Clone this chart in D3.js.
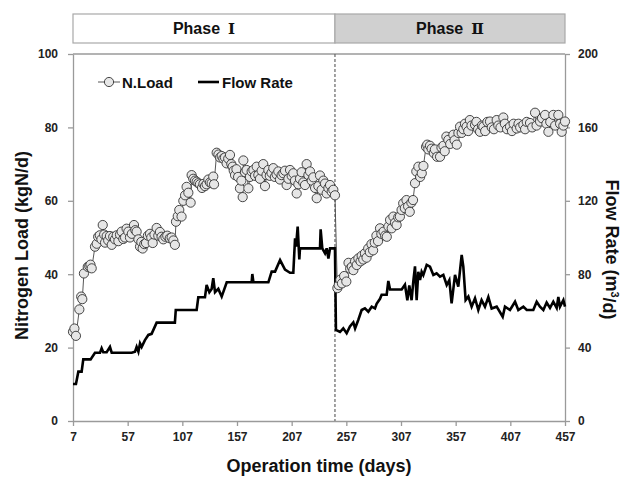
<!DOCTYPE html>
<html>
<head>
<meta charset="utf-8">
<script src="https://cdn.jsdelivr.net/npm/d3@7"></script>
<style>
  body { margin: 0; background: #fff; }
  svg { display: block; font-family: "Liberation Sans", Arial, sans-serif; font-weight: bold; }
  .axis path, .axis line { stroke: #9a9a9a; stroke-width: 1.3; }
  .axis text { font-size: 12px; font-weight: bold; fill: #222; font-family: "Liberation Sans", Arial, sans-serif; }
</style>
</head>
<body>
<svg id="chart" width="625" height="479"></svg>
<script>
'use strict';

// tick values
var xTicks = [7, 57, 107, 157, 207, 257, 307, 357, 407, 457];
var leftTicks = [0, 20, 40, 60, 80, 100];
var rightTicks = [0, 40, 80, 120, 160, 200];

// phase boundaries (days) and labels
var phaseBounds = [7, 246.6, 457];
var phaseNames = ['Phase', 'Phase'];
var phaseNumerals = ['\u2160', '\u2161'];

// N.Load (kgN/d), [day, value]
var nLoad = [
  [7, 24.3], [8.3, 25.2], [9.7, 23.2], [12.8, 30.4], [14.5, 33.9], [15.5, 33.2], [17, 40.2], [20.5, 42], [21.9, 42.2],
  [23, 42.6], [24.1, 41.6], [27.1, 47.5], [28.7, 48.3], [30, 50.2], [31.5, 50.6], [33, 49.5], [34.2, 53.4], [35.5, 50.8],
  [36.3, 48.6], [37.8, 50.4], [39.2, 49.2], [40.8, 50.4], [42.4, 48.0], [43.8, 50.2], [45.4, 49.5], [47, 50.6], [48.5, 49.0],
  [50, 50.8], [51.5, 51.6], [53, 49.6], [54.6, 50.0], [56, 52.4], [57.6, 51.6], [59.1, 50.0], [60.8, 51.0], [62.8, 53.4],
  [64, 52.0], [65.2, 51.6], [66.8, 49.5], [68.3, 47.5], [69.5, 48.8], [70.7, 47.0], [72.2, 48.2], [73.8, 48.5], [75.5, 50.5],
  [77.4, 51.0], [78.6, 50.0], [79.9, 48.5], [81.5, 50.8], [83.5, 52.6], [85, 50.5], [86.5, 51.5], [88, 50.2], [89.6, 49.5],
  [91.5, 50.2], [93.2, 50.5], [95.5, 49.8], [97.2, 50.0], [98.8, 49.2], [100.2, 48.0], [101.2, 54.3], [102.8, 55.8],
  [104.2, 57.5], [106.3, 55.7], [107.9, 60.0], [109.5, 61.5], [110.9, 63.8], [112.5, 62.2], [114.6, 59.5], [115.5, 67.0],
  [117, 66.0], [118.6, 65.5], [120.1, 65.2], [121.6, 64.8], [123.1, 64.5], [125, 63.5], [126.3, 64.6], [127.7, 64.0],
  [129.2, 64.5], [130.8, 65.8], [132.3, 65.0], [133.8, 64.8], [135.3, 66.6], [136, 64.5], [138.4, 73.1], [140, 72.6],
  [141.5, 71.8], [143, 72.2], [144.5, 71.5], [146, 71.8], [147.5, 70.2], [149, 71.5], [150.6, 72.5], [151.8, 70.0],
  [153, 69.3], [154, 68.2], [155.2, 67.0], [156.5, 68.6], [158, 66.5], [159.7, 63.4], [161, 65.5], [162.2, 61.0],
  [162.8, 71.0], [164.3, 67.8], [165.8, 68.4], [167.4, 63.4], [168.8, 66.5], [170.4, 68.0], [172, 68.4], [173.5, 66.8],
  [175, 69.3], [176.5, 67.0], [178, 66.0], [179.5, 68.2], [181, 70.0], [182.6, 64.0], [184, 67.0], [185.7, 68.4],
  [187, 66.8], [188.6, 67.6], [190.2, 68.9], [191.6, 66.5], [193.2, 67.2], [194.8, 68.0], [196.3, 65.8], [197.8, 67.0],
  [199.4, 67.5], [200.9, 68.2], [202.4, 64.3], [204, 66.0], [205.5, 68.4], [207, 66.8], [208.5, 67.5], [210, 65.5],
  [211.6, 62.0], [213.1, 64.5], [214.6, 66.0], [216.1, 67.8], [217.6, 65.0], [219.2, 64.3], [220.7, 70.0], [222.3, 67.0],
  [223.8, 68.0], [225.3, 65.5], [226.8, 66.4], [228.4, 63.5], [229.9, 60.7], [231.4, 64.0], [232.9, 66.9], [234.4, 63.0],
  [236, 65.5], [237.5, 64.7], [239, 62.0], [240.6, 63.5], [242.1, 64.3], [243.6, 62.5], [245.1, 63.0], [246.6, 61.5],
  [248.8, 36.2], [250, 37.0], [251.5, 38.5], [253, 37.5], [255, 39.5], [257, 38.0], [259, 43.1], [260.5, 41.5], [262, 42.0],
  [263.4, 41.1], [265, 43.5], [266.5, 42.5], [268, 44.3], [270, 43.5], [271, 45.0], [272.5, 44.0], [274, 45.7], [275.5, 44.5],
  [277, 47.0], [278.5, 46.0], [280, 48.2], [281.5, 46.5], [283, 48.6], [284.5, 50.5], [286, 49.0], [287.8, 52.5], [289, 51.0],
  [291, 51.6], [292.5, 50.5], [294, 50.2], [295.5, 53.0], [297, 54.8], [298.5, 52.5], [300, 55.7], [301.5, 54.0], [303, 53.4],
  [304.5, 55.5], [306, 55.7], [307.5, 57.5], [309, 59.3], [310.5, 58.0], [312, 60.2], [313.5, 58.5], [315, 57.0], [316.5, 59.5],
  [318, 60.2], [319.8, 64.8], [321, 68.0], [322.9, 69.3], [324.5, 66.5], [326, 67.5], [327.5, 69.5], [329.9, 74.7], [331, 75.3],
  [332, 74.0], [333.5, 75.0], [335, 74.2], [337, 73.0], [338, 74.0], [340, 72.0], [342.7, 72.0], [344, 74.5], [345.8, 75.0],
  [347, 73.5], [348.5, 77.5], [350.3, 76.6], [352, 75.5], [354.9, 78.0], [356, 76.5], [358, 75.3], [359.5, 78.5], [361, 80.2],
  [362.5, 78.5], [364, 79.5], [365.5, 81.0], [367, 80.2], [368.5, 79.0], [370, 82.0], [371.5, 80.5], [374.7, 80.7], [376, 81.5],
  [377.5, 79.5], [379.3, 78.8], [381, 80.5], [382.3, 80.2], [384, 79.0], [386, 81.5], [388.4, 81.6], [390, 80.0], [392, 79.5],
  [394.5, 82.0], [396, 80.5], [398, 80.0], [400.6, 82.7], [402, 81.0], [404, 79.5], [406.7, 80.2], [408.5, 79.0], [410, 81.0],
  [412.8, 79.7], [414.5, 81.0], [416, 80.0], [418.9, 80.7], [420.5, 79.5], [422, 81.5], [425, 81.2], [427, 80.0], [429.6, 84.0],
  [431, 80.5], [434.2, 81.6], [436, 82.5], [438.8, 83.4], [440, 81.0], [441.8, 78.8], [443.5, 81.5], [446.3, 83.4], [448, 80.5],
  [450.9, 83.4], [452.5, 81.0], [454, 78.8], [455.5, 80.5], [457, 81.6]
];

// Flow Rate (m3/d), [day, value]
var flowRate = [
  [7, 20.2], [9.7, 20.2], [11.9, 26.9], [14.9, 26.9], [16.4, 33.6], [23.1, 33.6], [27.1, 37.2], [31.7, 37.2], [33.2, 39.6],
  [34.7, 37.5], [37.8, 37.5], [40.8, 40.4], [42.4, 37.2], [60.7, 37.2], [63.7, 37.8], [65.2, 40.4], [66.8, 37.8], [68.3, 42.3],
  [69.8, 40.4], [72.8, 44.1], [75.9, 46.9], [78.9, 47.5], [83.5, 53.6], [100.2, 53.6], [101, 60.5], [120.1, 60.5], [121.6, 67.4],
  [127.7, 67.4], [129.2, 74.1], [131.7, 70.2], [133.8, 72.0], [135.3, 77.8], [136.9, 70.2], [139.9, 72.0], [143, 67.8],
  [147.6, 75.6], [170.4, 75.6], [171, 80.1], [172, 75.6], [185.7, 75.6], [188.7, 81.4], [191.8, 81.4], [196.4, 87.7],
  [200.9, 82.5], [205.5, 80.8], [208.5, 80.8], [210.1, 99.6], [211, 95], [212.5, 105.9], [214, 88], [214.6, 94.1],
  [232.9, 94.1], [233.5, 104.5], [235, 94.1], [237.5, 91.4], [239, 94.1], [240.6, 88.5], [242.1, 94.1], [246.6, 94.1],
  [247.5, 49.6], [251.2, 48.5], [254.2, 50.5], [257.3, 47.8], [260.3, 51.5], [263.4, 53.7], [265, 50.5], [268, 55.2],
  [271, 60.5], [274, 61.4], [277.1, 59.6], [280.2, 62.3], [283.2, 61.4], [284.7, 63.9], [287.8, 66.6], [289.3, 68.8],
  [293.9, 68.8], [295.4, 76.3], [297, 71.7], [307.6, 71.7], [310.6, 74.3], [312.8, 65.8], [314.6, 73.9], [316.7, 65.8],
  [318.3, 76.3], [319.8, 84.3], [321.3, 65.9], [322.8, 81.3], [324.4, 76.8], [325.9, 81.3], [327.4, 79.5], [330.5, 85.1],
  [333.5, 84.1], [336.6, 79.6], [339.6, 80.5], [342.7, 78.7], [345.7, 79.6], [348.8, 74.1], [351.2, 76.8], [353.3, 64.1],
  [356.4, 79.6], [359.4, 73.2], [362.5, 90.5], [364, 84.1], [366.1, 65.9], [368.6, 67.8], [371.6, 62.3], [374.7, 66.9],
  [377.7, 60.5], [380.7, 65.9], [383.8, 62.3], [386.9, 67.6], [389.9, 61.3], [394.5, 62.3], [400, 56.8], [402.1, 62.3],
  [406.7, 60.5], [411.3, 65.0], [414.3, 60.5], [418.9, 62.3], [422, 60.5], [428, 60.5], [431.1, 65.0], [434.1, 62.3],
  [437.2, 60.5], [440.2, 64.6], [443.3, 61.6], [446.3, 65.0], [449.4, 61.6], [450.9, 67.6], [452.4, 62.3], [455.5, 65.9],
  [457, 62.3]
];

var margin = { top: 54, right: 60, bottom: 58, left: 73 };
var svg = d3.select('#chart');
var width = +svg.attr('width') - margin.left - margin.right;
var height = +svg.attr('height') - margin.top - margin.bottom;

var x = d3.scaleLinear().domain([7, 457]).range([0, width]);
var yLeft = d3.scaleLinear().domain([0, 100]).range([height, 0]);
var yRight = d3.scaleLinear().domain([0, 200]).range([height, 0]);

var g = svg.append('g').attr('transform', 'translate(' + margin.left + ',' + margin.top + ')');

// phase header
var phaseGroup = svg.append('g').attr('transform', 'translate(' + margin.left + ',14)');
var phaseData = phaseNames.map(function (name, i) {
  return { name: name, numeral: phaseNumerals[i], start: phaseBounds[i], end: phaseBounds[i + 1] };
});
phaseGroup.selectAll('rect').data(phaseData).enter().append('rect')
  .attr('x', function (d) { return x(d.start); })
  .attr('width', function (d) { return x(d.end) - x(d.start); })
  .attr('y', 0)
  .attr('height', 29)
  .attr('fill', function (d, i) { return i === 0 ? '#ffffff' : '#d0d0d0'; })
  .attr('stroke', '#a8a8a8')
  .attr('stroke-width', 1.2);
var phaseText = phaseGroup.selectAll('text').data(phaseData).enter().append('text')
  .attr('x', function (d) { return (x(d.start) + x(d.end)) / 2; })
  .attr('y', 20)
  .attr('text-anchor', 'middle')
  .style('font-size', '16px')
  .style('fill', '#111');
phaseText.append('tspan').text(function (d) { return d.name; });
phaseText.append('tspan').attr('dx', 8)
  .style('font-family', '"DejaVu Serif", "Liberation Serif", serif')
  .style('font-size', '15px')
  .text(function (d) { return d.numeral; });

// frame top line
g.append('line')
  .attr('x1', 0).attr('x2', width).attr('y1', 0).attr('y2', 0)
  .attr('stroke', '#9a9a9a').attr('stroke-width', 1.3);

// axes
g.append('g').attr('class', 'axis')
  .attr('transform', 'translate(0,' + height + ')')
  .call(d3.axisBottom(x).tickValues(xTicks).tickSize(5).tickSizeOuter(0).tickPadding(6));
g.append('g').attr('class', 'axis')
  .call(d3.axisLeft(yLeft).tickValues(leftTicks).tickSize(5).tickSizeOuter(0).tickPadding(10));
g.append('g').attr('class', 'axis')
  .attr('transform', 'translate(' + width + ',0)')
  .call(d3.axisRight(yRight).tickValues(rightTicks).tickSize(5).tickSizeOuter(0).tickPadding(8));

// phase separator
g.append('line')
  .attr('x1', x(phaseBounds[1])).attr('x2', x(phaseBounds[1]))
  .attr('y1', 0).attr('y2', height)
  .attr('stroke', '#666').attr('stroke-width', 1.2).attr('stroke-dasharray', '3,2');

// flow rate line
var flowLine = d3.line()
  .x(function (d) { return x(d[0]); })
  .y(function (d) { return yRight(d[1]); });
g.append('path').datum(flowRate)
  .attr('d', flowLine)
  .attr('fill', 'none')
  .attr('stroke', '#000')
  .attr('stroke-width', 2.6)
  .attr('stroke-linejoin', 'miter');

// N.Load line + markers
var loadLine = d3.line()
  .x(function (d) { return x(d[0]); })
  .y(function (d) { return yLeft(d[1]); });
g.append('path').datum(nLoad)
  .attr('d', loadLine)
  .attr('fill', 'none')
  .attr('stroke', '#444')
  .attr('stroke-width', 0.9);
g.selectAll('.pt').data(nLoad).enter().append('circle')
  .attr('class', 'pt')
  .attr('cx', function (d) { return x(d[0]); })
  .attr('cy', function (d) { return yLeft(d[1]); })
  .attr('r', 4.6)
  .attr('fill', '#e6e6e6')
  .attr('stroke', '#333')
  .attr('stroke-width', 0.9);

// legend
var legend = svg.append('g').attr('transform', 'translate(98,82)');
legend.append('line').attr('x1', 0).attr('x2', 22).attr('y1', 0).attr('y2', 0)
  .attr('stroke', '#444').attr('stroke-width', 0.9);
legend.append('circle').attr('cx', 11).attr('cy', 0).attr('r', 4.6)
  .attr('fill', '#e6e6e6').attr('stroke', '#333').attr('stroke-width', 0.9);
legend.append('text').attr('x', 24).attr('y', 5.5).style('font-size', '15px').style('fill', '#111').text('N.Load');
legend.append('line').attr('x1', 100).attr('x2', 121).attr('y1', 0).attr('y2', 0)
  .attr('stroke', '#000').attr('stroke-width', 2.6);
legend.append('text').attr('x', 124).attr('y', 5.5).style('font-size', '15px').style('fill', '#111').text('Flow Rate');

// axis titles
svg.append('text')
  .attr('transform', 'translate(22,' + (margin.top + height / 2 + 8) + ') rotate(-90)')
  .attr('text-anchor', 'middle')
  .attr('dy', '0.35em')
  .style('font-size', '18px').style('fill', '#111')
  .text('Nitrogen Load (kgN/d)');

var rightTitle = svg.append('text')
  .attr('transform', 'translate(612,' + (margin.top + height / 2 + 12) + ') rotate(90)')
  .attr('text-anchor', 'middle')
  .attr('dy', '0.35em')
  .style('font-size', '18px').style('fill', '#111');
rightTitle.append('tspan').text('Flow Rate (m');
rightTitle.append('tspan').attr('dy', '-0.45em').style('font-size', '11px').text('3');
rightTitle.append('tspan').attr('dy', '0.45em').text('/d)');

svg.append('text')
  .attr('x', margin.left + width / 2)
  .attr('y', 472)
  .attr('text-anchor', 'middle')
  .style('font-size', '18px').style('fill', '#111')
  .text('Operation time (days)');
</script>
</body>
</html>
